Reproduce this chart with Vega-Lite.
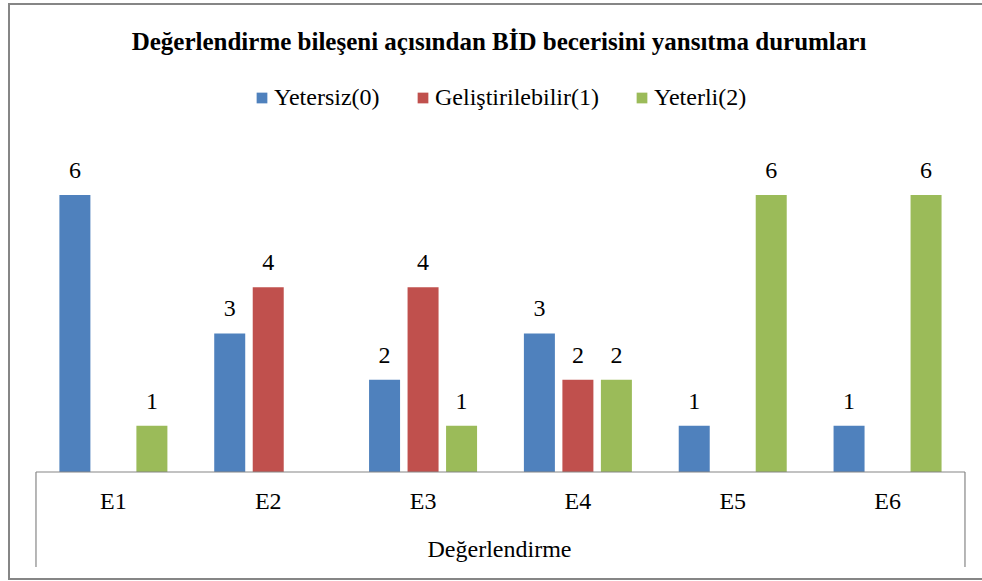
{
  "$schema": "https://vega.github.io/schema/vega-lite/v6.json",
  "width": 980,
  "height": 575,
  "autosize": {"type": "none"},
  "padding": {"left": 9, "top": 4, "right": 0, "bottom": 2},
  "background": "white",
  "title": {
    "text": "Değerlendirme bileşeni açısından BİD becerisini yansıtma durumları",
    "font": "Liberation Serif",
    "fontSize": 25,
    "fontWeight": "bold",
    "color": "#000000",
    "anchor": "middle",
    "frame": "group",
    "offset": -51
  },
  "data": {
    "values": [
      {"E": "E1", "s": "Yetersiz(0)", "v": 6},
      {"E": "E1", "s": "Geliştirilebilir(1)", "v": 0},
      {"E": "E1", "s": "Yeterli(2)", "v": 1},
      {"E": "E2", "s": "Yetersiz(0)", "v": 3},
      {"E": "E2", "s": "Geliştirilebilir(1)", "v": 4},
      {"E": "E2", "s": "Yeterli(2)", "v": 0},
      {"E": "E3", "s": "Yetersiz(0)", "v": 2},
      {"E": "E3", "s": "Geliştirilebilir(1)", "v": 4},
      {"E": "E3", "s": "Yeterli(2)", "v": 1},
      {"E": "E4", "s": "Yetersiz(0)", "v": 3},
      {"E": "E4", "s": "Geliştirilebilir(1)", "v": 2},
      {"E": "E4", "s": "Yeterli(2)", "v": 2},
      {"E": "E5", "s": "Yetersiz(0)", "v": 1},
      {"E": "E5", "s": "Geliştirilebilir(1)", "v": 0},
      {"E": "E5", "s": "Yeterli(2)", "v": 6},
      {"E": "E6", "s": "Yetersiz(0)", "v": 1},
      {"E": "E6", "s": "Geliştirilebilir(1)", "v": 0},
      {"E": "E6", "s": "Yeterli(2)", "v": 6}
    ]
  },
  "layer": [
    {
      "mark": {"type": "bar"},
      "encoding": {
        "x": {
          "field": "E",
          "type": "nominal",
          "sort": ["E1", "E2", "E3", "E4", "E5", "E6"],
          "scale": {"paddingInner": 0, "paddingOuter": 0.1647, "align": 0.529},
          "axis": {
            "title": "Değerlendirme",
            "labelAngle": 0,
            "domain": false,
            "ticks": false,
            "offset": -107,
            "labelPadding": 17,
            "titlePadding": 24
          }
        },
        "xOffset": {
          "field": "s",
          "type": "nominal",
          "sort": ["Yetersiz(0)", "Geliştirilebilir(1)", "Yeterli(2)"],
          "scale": {"paddingInner": 0.1948, "paddingOuter": 0.6082}
        },
        "y": {
          "field": "v",
          "type": "quantitative",
          "scale": {"domain": [-2.3177, 10.137], "nice": false, "zero": false},
          "axis": null
        },
        "y2": {"datum": 0},
        "color": {
          "field": "s",
          "type": "nominal",
          "sort": ["Yetersiz(0)", "Geliştirilebilir(1)", "Yeterli(2)"],
          "scale": {
            "domain": ["Yetersiz(0)", "Geliştirilebilir(1)", "Yeterli(2)"],
            "range": ["#4F81BD", "#C0504D", "#9BBB59"]
          },
          "legend": {
            "title": null,
            "orient": "none",
            "direction": "horizontal",
            "legendX": 241,
            "legendY": 82,
            "symbolType": "square",
            "symbolSize": 115,
            "symbolStrokeWidth": 0,
            "labelOffset": 0,
            "labelLimit": 400,
            "labelFont": "Liberation Serif",
            "labelFontSize": 24,
            "labelColor": "#000000",
            "columnPadding": 31,
            "padding": 0
          }
        }
      }
    },
    {
      "transform": [{"filter": "datum.v > 0"}],
      "mark": {"type": "text", "baseline": "alphabetic", "dy": -17, "font": "Liberation Serif", "fontSize": 24, "color": "#000000"},
      "encoding": {
        "x": {"field": "E", "type": "nominal", "sort": ["E1", "E2", "E3", "E4", "E5", "E6"]},
        "xOffset": {"field": "s", "type": "nominal", "sort": ["Yetersiz(0)", "Geliştirilebilir(1)", "Yeterli(2)"]},
        "y": {"field": "v", "type": "quantitative"},
        "text": {"field": "v", "type": "quantitative"}
      }
    },
    {
      "data": {"values": [{}]},
      "mark": {"type": "rule", "color": "#868686", "strokeWidth": 1.2},
      "encoding": {
        "x": {"datum": "E1", "type": "nominal", "bandPosition": 0},
        "x2": {"datum": "E6", "bandPosition": 1},
        "y": {"datum": 0, "type": "quantitative"}
      }
    },
    {
      "data": {"values": [{}]},
      "mark": {"type": "rule", "color": "#868686", "strokeWidth": 1.2},
      "encoding": {
        "x": {"datum": "E1", "type": "nominal", "bandPosition": 0},
        "y": {"datum": 0, "type": "quantitative"},
        "y2": {"datum": -2.0578}
      }
    },
    {
      "data": {"values": [{}]},
      "mark": {"type": "rule", "color": "#868686", "strokeWidth": 1.2},
      "encoding": {
        "x": {"datum": "E6", "type": "nominal", "bandPosition": 1},
        "y": {"datum": 0, "type": "quantitative"},
        "y2": {"datum": -2.0578}
      }
    }
  ],
  "config": {
    "view": {"stroke": "#868686", "strokeWidth": 2},
    "font": "Liberation Serif",
    "text": {"font": "Liberation Serif"},
    "axis": {
      "labelFont": "Liberation Serif",
      "labelFontSize": 24,
      "labelColor": "#000000",
      "titleFont": "Liberation Serif",
      "titleFontSize": 24,
      "titleFontWeight": "normal",
      "titleColor": "#000000"
    },
    "legend": {
      "labelFont": "Liberation Serif",
      "labelFontSize": 24,
      "labelColor": "#000000"
    }
  }
}
